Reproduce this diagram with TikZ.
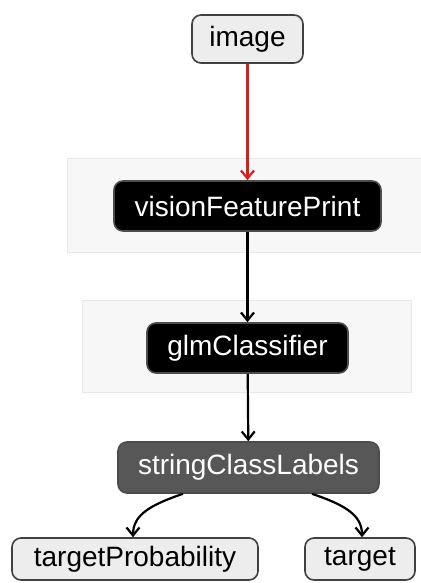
\documentclass[tikz,border=0pt]{standalone}
\usepackage{fontspec}
\setmainfont{Liberation Sans}
\usetikzlibrary{arrows.meta}
\definecolor{lightbox}{HTML}{EDEDED}
\definecolor{bgfill}{HTML}{F7F7F7}
\definecolor{bgline}{HTML}{E8E8E8}
\definecolor{darkbox}{HTML}{575757}
\definecolor{redline}{HTML}{D42020}
\tikzset{
  base/.style={rounded corners=9pt, line width=1.6pt, inner sep=0pt, font=\fontsize{28}{32}\selectfont},
  lightnode/.style={base, fill=lightbox, draw=black!75, text=black},
  blacknode/.style={base, fill=black, draw=black!70, text=white},
  darknode/.style={base, fill=darkbox, draw=black!70, text=white},
  bgbox/.style={fill=bgfill, draw=bgline, line width=0.8pt},
  conn/.style={line width=2.2pt, -{Straight Barb[length=8pt,width=13pt,line width=2.2pt]}},
}
\begin{document}
\begin{tikzpicture}[x=1pt,y=-1pt]
\useasboundingbox (0,0) rectangle (420,583);
\fill[white] (0,0) rectangle (420,583);
\draw[bgbox] (67,158) rectangle (421,252);
\draw[bgbox] (82,300) rectangle (411,392);
\node[lightnode, minimum width=111pt, minimum height=48pt] (image) at (247.5,39) {image};
\node[blacknode, minimum width=267pt, minimum height=50pt] (vfp) at (247.5,206) {visionFeaturePrint};
\node[blacknode, minimum width=201pt, minimum height=50pt] (glm) at (247.5,348) {glmClassifier};
\node[darknode, minimum width=261pt, minimum height=51pt] (scl) at (248.5,467.5) {stringClassLabels};
\node[lightnode, minimum width=246pt, minimum height=42pt] (tp) at (135,559) {targetProbability};
\node[lightnode, minimum width=110pt, minimum height=42pt] (tg) at (360,559) {target};
\draw[conn, draw=redline] (image) -- (vfp);
\draw[conn] (vfp) -- (glm);
\draw[conn] (glm) -- (scl);
\draw[conn] (scl.south -| 183,0) .. controls (150,505) and (133,515) .. (tp.north -| 133,0);
\draw[conn] (scl.south -| 312,0) .. controls (345,505) and (362,515) .. (tg.north -| 362,0);
\end{tikzpicture}
\end{document}
